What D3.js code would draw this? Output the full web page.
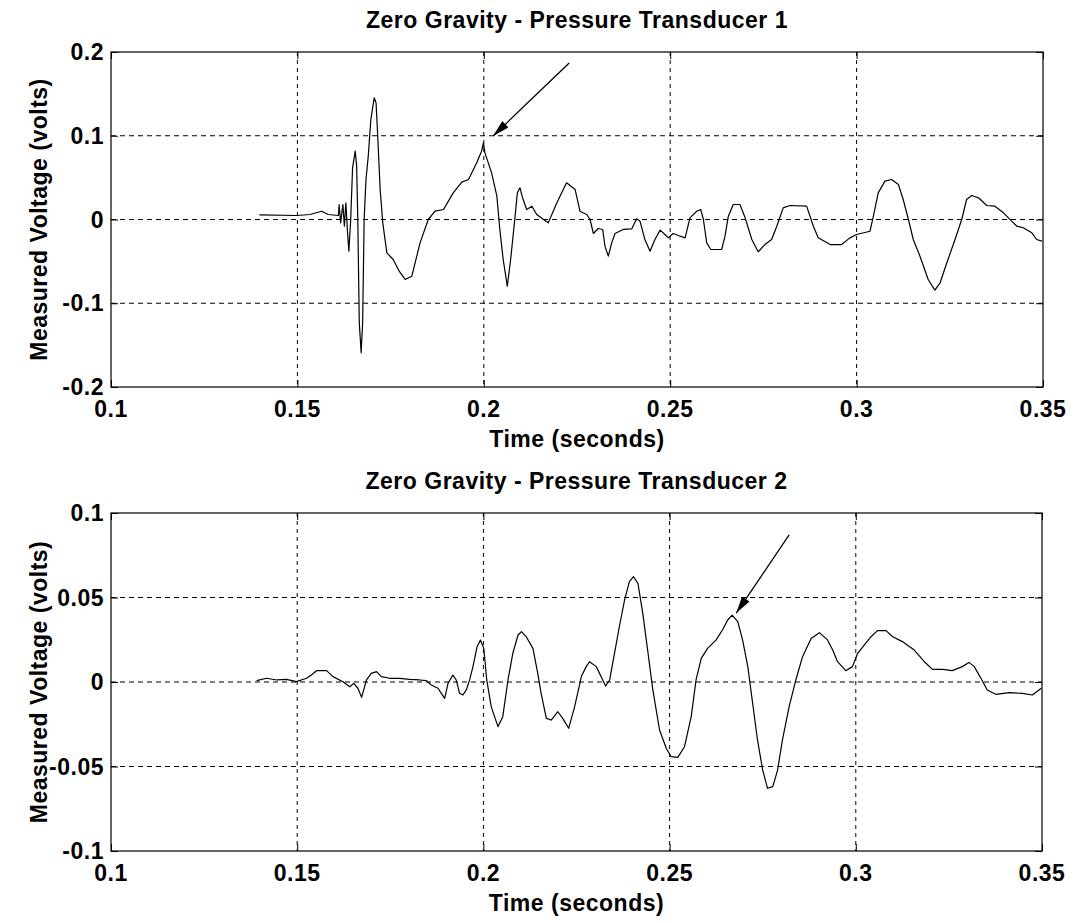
<!DOCTYPE html>
<html>
<head>
<meta charset="utf-8">
<script src="https://cdn.jsdelivr.net/npm/d3@7"></script>
<style>
    body { margin: 0; background: #fff; }
    text { font-family: "Liberation Sans", Arial, sans-serif; font-weight: bold; fill: #000; }
</style>
</head>
<body>
<svg id="chart_svg"></svg>
<script>
// transducer 1 trace (seconds, volts)
var time1 = [0.1398, 0.1498, 0.1534, 0.1565, 0.1583, 0.1610, 0.1612, 0.1616, 0.1622, 0.1626,
    0.1630, 0.1634, 0.1638, 0.1643, 0.1648, 0.1655, 0.1659, 0.1662, 0.1666, 0.1671,
    0.1675, 0.1679, 0.1684, 0.1690, 0.1697, 0.1706, 0.1711, 0.1715, 0.1722, 0.1729,
    0.1740, 0.1757, 0.1773, 0.1789, 0.1807, 0.1829, 0.1851, 0.1869, 0.1892, 0.1918,
    0.1941, 0.1959, 0.1981, 0.1994, 0.1999, 0.2003, 0.2021, 0.2035, 0.2043, 0.2052,
    0.2063, 0.2072, 0.2084, 0.2090, 0.2097, 0.2104, 0.2115, 0.2129, 0.2142, 0.2160,
    0.2173, 0.2196, 0.2222, 0.2245, 0.2258, 0.2276, 0.2285, 0.2294, 0.2307, 0.2319,
    0.2325, 0.2334, 0.2343, 0.2352, 0.2374, 0.2397, 0.2410, 0.2419, 0.2432, 0.2446,
    0.2459, 0.2473, 0.2486, 0.2495, 0.2508, 0.2522, 0.2540, 0.2553, 0.2571, 0.2582,
    0.2589, 0.2598, 0.2609, 0.2638, 0.2647, 0.2656, 0.2669, 0.2687, 0.2701, 0.2719,
    0.2736, 0.2754, 0.2772, 0.2786, 0.2803, 0.2821, 0.2866, 0.2884, 0.2897, 0.2929,
    0.2960, 0.2982, 0.3000, 0.3036, 0.3045, 0.3058, 0.3076, 0.3094, 0.3112, 0.3125,
    0.3139, 0.3152, 0.3170, 0.3192, 0.3210, 0.3224, 0.3242, 0.3264, 0.3282, 0.3295,
    0.3309, 0.3327, 0.3349, 0.3371, 0.3394, 0.3416, 0.3430, 0.3447, 0.3470, 0.3483, 0.3497];
var volt1 = [0.0056, 0.0048, 0.0060, 0.0099, 0.0060, 0.0048, 0.0179, -0.0040, 0.0179, -0.0080,
    0.0199, -0.0119, -0.0378, 0.0000, 0.0617, 0.0816, 0.0637, 0.0000, -0.1234, -0.1592,
    -0.1234, 0.0000, 0.0478, 0.0756, 0.1194, 0.1453, 0.1393, 0.1035, 0.0358, -0.0040,
    -0.0398, -0.0478, -0.0617, -0.0716, -0.0677, -0.0279, 0.0000, 0.0099, 0.0119, 0.0318,
    0.0446, 0.0478, 0.0677, 0.0816, 0.0916, 0.0796, 0.0557, 0.0279, -0.0119, -0.0478,
    -0.0796, -0.0478, 0.0040, 0.0318, 0.0378, 0.0259, 0.0119, 0.0159, 0.0060, 0.0000,
    -0.0040, 0.0199, 0.0438, 0.0358, 0.0099, 0.0060, 0.0000, -0.0167, -0.0107, -0.0119,
    -0.0318, -0.0438, -0.0279, -0.0167, -0.0119, -0.0111, 0.0008, -0.0020, -0.0239, -0.0378,
    -0.0239, -0.0127, -0.0179, -0.0219, -0.0167, -0.0191, -0.0219, 0.0020, 0.0099, 0.0119,
    0.0000, -0.0279, -0.0358, -0.0358, -0.0199, 0.0040, 0.0179, 0.0179, 0.0020, -0.0239,
    -0.0386, -0.0299, -0.0239, -0.0080, 0.0139, 0.0167, 0.0159, -0.0080, -0.0219, -0.0299,
    -0.0299, -0.0219, -0.0179, -0.0140, 0.0040, 0.0318, 0.0458, 0.0478, 0.0418, 0.0239,
    0.0000, -0.0239, -0.0438, -0.0716, -0.0844, -0.0756, -0.0517, -0.0239, 0.0000, 0.0239,
    0.0287, 0.0259, 0.0167, 0.0159, 0.0080, -0.0020, -0.0080, -0.0099, -0.0159, -0.0239, -0.0259];

// transducer 2 trace (seconds, volts)
var time2 = [0.1391, 0.1418, 0.1445, 0.1471, 0.1498, 0.1525, 0.1538, 0.1552, 0.1579, 0.1596,
    0.1623, 0.1641, 0.1652, 0.1663, 0.1673, 0.1686, 0.1699, 0.1713, 0.1726, 0.1748,
    0.1775, 0.1802, 0.1829, 0.1847, 0.1860, 0.1878, 0.1887, 0.1896, 0.1905, 0.1918,
    0.1927, 0.1936, 0.1945, 0.1954, 0.1963, 0.1972, 0.1983, 0.1992, 0.2001, 0.2009,
    0.2021, 0.2039, 0.2052, 0.2066, 0.2079, 0.2093, 0.2102, 0.2115, 0.2133, 0.2146,
    0.2155, 0.2169, 0.2182, 0.2200, 0.2213, 0.2229, 0.2245, 0.2263, 0.2276, 0.2285,
    0.2303, 0.2316, 0.2328, 0.2339, 0.2352, 0.2365, 0.2379, 0.2392, 0.2403, 0.2415,
    0.2428, 0.2441, 0.2455, 0.2473, 0.2491, 0.2504, 0.2522, 0.2540, 0.2558, 0.2571,
    0.2585, 0.2602, 0.2625, 0.2642, 0.2656, 0.2668, 0.2683, 0.2696, 0.2710, 0.2723,
    0.2736, 0.2750, 0.2763, 0.2777, 0.2790, 0.2803, 0.2821, 0.2839, 0.2857, 0.2880,
    0.2902, 0.2924, 0.2938, 0.2951, 0.2973, 0.2991, 0.3005, 0.3023, 0.3041, 0.3058,
    0.3081, 0.3099, 0.3125, 0.3157, 0.3184, 0.3206, 0.3233, 0.3259, 0.3286, 0.3304,
    0.3318, 0.3336, 0.3353, 0.3376, 0.3412, 0.3447, 0.3474, 0.3492, 0.3498];
var volt2 = [0.0008, 0.0022, 0.0012, 0.0016, 0.0002, 0.0022, 0.0041, 0.0067, 0.0067, 0.0032,
    0.0002, -0.0028, -0.0008, -0.0037, -0.0091, 0.0012, 0.0051, 0.0061, 0.0032, 0.0022,
    0.0022, 0.0016, 0.0012, 0.0008, -0.0018, -0.0037, -0.0067, -0.0097, -0.0008, 0.0041,
    0.0012, -0.0067, -0.0077, -0.0047, 0.0012, 0.0091, 0.0209, 0.0249, 0.0199, 0.0012,
    -0.0146, -0.0264, -0.0205, 0.0012, 0.0170, 0.0278, 0.0298, 0.0268, 0.0199, 0.0051,
    -0.0067, -0.0215, -0.0225, -0.0176, -0.0215, -0.0274, -0.0146, 0.0032, 0.0091, 0.0120,
    0.0091, 0.0032, -0.0024, 0.0012, 0.0170, 0.0327, 0.0485, 0.0594, 0.0623, 0.0584,
    0.0406, 0.0189, -0.0047, -0.0284, -0.0392, -0.0442, -0.0446, -0.0383, -0.0205, 0.0012,
    0.0140, 0.0199, 0.0249, 0.0308, 0.0367, 0.0396, 0.0357, 0.0249, 0.0091, -0.0126,
    -0.0343, -0.0521, -0.0629, -0.0619, -0.0521, -0.0343, -0.0146, 0.0012, 0.0150, 0.0258,
    0.0292, 0.0249, 0.0189, 0.0120, 0.0067, 0.0091, 0.0170, 0.0219, 0.0268, 0.0304,
    0.0304, 0.0268, 0.0239, 0.0189, 0.0120, 0.0075, 0.0075, 0.0067, 0.0091, 0.0116,
    0.0091, 0.0022, -0.0047, -0.0073, -0.0063, -0.0067, -0.0077, -0.0047, -0.0037];

var xTicks = [0.1, 0.15, 0.2, 0.25, 0.3, 0.35];
var yTicks1 = [-0.2, -0.1, 0, 0.1, 0.2];
var yTicks2 = [-0.1, -0.05, 0, 0.05, 0.1];
var titles = ["Zero Gravity - Pressure Transducer 1", "Zero Gravity - Pressure Transducer 2"];
// arrows: [tail t, tail v, tip t, tip v]
var arrow1 = [0.2229, 0.1869, 0.2025, 0.0997];
var arrow2 = [0.2821, 0.0870, 0.2679, 0.0408];

var width = 1075,
    height = 923;

var svg = d3.select("#chart_svg")
    .attr("width", width)
    .attr("height", height);

svg.append("defs").append("marker")
    .attr("id", "arrowHead")
    .attr("viewBox", "0 0 17 9")
    .attr("refX", 17)
    .attr("refY", 4.5)
    .attr("markerUnits", "userSpaceOnUse")
    .attr("markerWidth", 17)
    .attr("markerHeight", 9)
    .attr("orient", "auto")
    .append("path")
    .attr("d", "M0,0 L17,4.5 L0,9 z")
    .attr("fill", "#000");

function drawPanel(box, times, volts, yDomain, yTicks, title, arrow) {
    var xScale = d3.scaleLinear().domain([0.1, 0.35]).range([box.left, box.right]);
    var yScale = d3.scaleLinear().domain(yDomain).range([box.bottom, box.top]);

    var g = svg.append("g").attr("class", "panel");

    // grid
    g.selectAll(".vgrid")
        .data(xTicks.slice(1, -1))
        .enter().append("line")
        .attr("class", "vgrid")
        .attr("x1", function (d) { return xScale(d); })
        .attr("x2", function (d) { return xScale(d); })
        .attr("y1", box.top)
        .attr("y2", box.bottom)
        .attr("stroke", "#000")
        .attr("stroke-width", 1)
        .attr("stroke-dasharray", "4,4");

    g.selectAll(".hgrid")
        .data(yTicks.slice(1, -1))
        .enter().append("line")
        .attr("class", "hgrid")
        .attr("x1", box.left)
        .attr("x2", box.right)
        .attr("y1", function (d) { return yScale(d); })
        .attr("y2", function (d) { return yScale(d); })
        .attr("stroke", "#000")
        .attr("stroke-width", 1)
        .attr("stroke-dasharray", "5,4");

    // axes, MATLAB style ticks pointing inwards on all four sides
    g.append("g")
        .attr("transform", "translate(0," + box.bottom + ")")
        .call(d3.axisTop(xScale).tickValues(xTicks).tickSize(7).tickFormat(""))
        .call(function (a) { a.select(".domain").remove(); });
    g.append("g")
        .attr("transform", "translate(0," + box.top + ")")
        .call(d3.axisBottom(xScale).tickValues(xTicks).tickSize(7).tickFormat(""))
        .call(function (a) { a.select(".domain").remove(); });
    g.append("g")
        .attr("transform", "translate(" + box.left + ",0)")
        .call(d3.axisRight(yScale).tickValues(yTicks).tickSize(7).tickFormat(""))
        .call(function (a) { a.select(".domain").remove(); });
    g.append("g")
        .attr("transform", "translate(" + box.right + ",0)")
        .call(d3.axisLeft(yScale).tickValues(yTicks).tickSize(7).tickFormat(""))
        .call(function (a) { a.select(".domain").remove(); });

    g.append("rect")
        .attr("x", box.left)
        .attr("y", box.top)
        .attr("width", box.right - box.left)
        .attr("height", box.bottom - box.top)
        .attr("fill", "none")
        .attr("stroke", "#000")
        .attr("stroke-width", 1.2);

    // tick labels
    g.selectAll(".xlabel")
        .data(xTicks)
        .enter().append("text")
        .attr("class", "xlabel")
        .attr("x", function (d) { return xScale(d); })
        .attr("y", box.bottom + 30)
        .style("text-anchor", "middle")
        .style("font-size", "23px")
        .style("letter-spacing", "0.5px")
        .text(function (d) { return String(d); });

    g.selectAll(".ylabel")
        .data(yTicks)
        .enter().append("text")
        .attr("class", "ylabel")
        .attr("x", box.left - 7)
        .attr("y", function (d) { return yScale(d) + 8; })
        .style("text-anchor", "end")
        .style("font-size", "23px")
        .style("letter-spacing", "0.5px")
        .text(function (d) { return String(d); });

    // trace
    var pts = times.map(function (t, i) { return [t, volts[i]]; });
    var line = d3.line()
        .x(function (d) { return xScale(d[0]); })
        .y(function (d) { return yScale(d[1]); });
    g.append("path")
        .datum(pts)
        .attr("d", line)
        .attr("fill", "none")
        .attr("stroke", "#000")
        .attr("stroke-width", 1.2)
        .attr("stroke-linejoin", "round");

    // annotation arrow
    g.append("line")
        .attr("x1", xScale(arrow[0]))
        .attr("y1", yScale(arrow[1]))
        .attr("x2", xScale(arrow[2]))
        .attr("y2", yScale(arrow[3]))
        .attr("stroke", "#000")
        .attr("stroke-width", 1.3)
        .attr("marker-end", "url(#arrowHead)");

    // titles
    var cx = (box.left + box.right) / 2;
    g.append("text")
        .attr("x", cx)
        .attr("y", box.top - 24)
        .style("text-anchor", "middle")
        .style("font-size", "23px")
        .style("letter-spacing", "0.5px")
        .text(title);

    g.append("text")
        .attr("x", cx)
        .attr("y", box.bottom + 60)
        .style("text-anchor", "middle")
        .style("font-size", "23px")
        .style("letter-spacing", "0.5px")
        .text("Time (seconds)");

    g.append("text")
        .attr("transform", "translate(47," + ((box.top + box.bottom) / 2) + ") rotate(-90)")
        .style("text-anchor", "middle")
        .style("font-size", "23px")
        .style("letter-spacing", "0.5px")
        .text("Measured Voltage (volts)");
}

drawPanel({left: 111, right: 1043, top: 52, bottom: 387}, time1, volt1, [-0.2, 0.2], yTicks1, titles[0], arrow1);
drawPanel({left: 111, right: 1042, top: 513, bottom: 851}, time2, volt2, [-0.1, 0.1], yTicks2, titles[1], arrow2);
</script>
</body>
</html>
